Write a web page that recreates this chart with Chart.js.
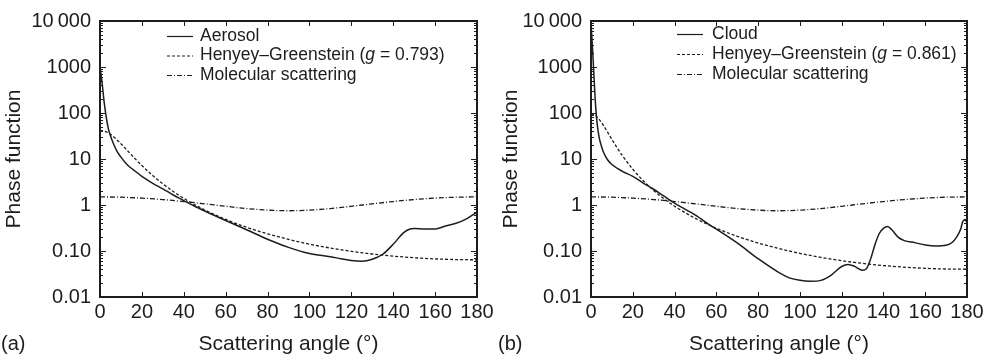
<!DOCTYPE html>
<html>
<head>
<meta charset="utf-8">
<script src="https://cdn.jsdelivr.net/npm/chart.js@4"></script>
<style>
  body { margin: 0; background: #fff; }
  .row { display: flex; width: 994px; height: 359px; }
  .panel { position: relative; width: 497px; height: 359px; }
</style>
</head>
<body>
<div class="row">
  <div class="panel"><canvas id="chartA"></canvas></div>
  <div class="panel"><canvas id="chartB"></canvas></div>
</div>
<script>
// tick labels
const xTicks = [0, 20, 40, 60, 80, 100, 120, 140, 160, 180];
const yTickValues = [0.01, 0.1, 1, 10, 100, 1000, 10000];
const yTickLabels = ['0.01', '0.10', '1', '10', '100', '1000', '10\u2009000'];

// panel (a) aerosol
const aerosolAngle = [0, 1, 2, 3, 4, 5, 6, 8, 10, 13, 16, 20, 25, 30, 35, 40, 45, 50, 60, 70, 80, 90, 100, 110, 115, 120, 125, 130, 135, 140, 145, 148, 150, 155, 160, 165, 170, 175, 180];
const aerosolValue = [1000, 450, 170, 80, 45, 32, 24, 15, 11, 7.5, 5.8, 4.2, 3.0, 2.25, 1.65, 1.25, 0.95, 0.74, 0.46, 0.29, 0.18, 0.12, 0.088, 0.075, 0.068, 0.062, 0.06, 0.066, 0.085, 0.14, 0.25, 0.30, 0.31, 0.30, 0.30, 0.35, 0.40, 0.50, 0.70];

// panel (b) cloud
const cloudAngle = [0, 1, 2, 3, 4, 5, 6, 8, 10, 15, 20, 25, 30, 35, 40, 50, 58, 60, 70, 80, 90, 95, 100, 105, 110, 115, 120, 123, 126, 130, 132, 134, 136, 138, 140, 142, 144, 147, 150, 155, 160, 165, 170, 173, 175, 177, 178, 179, 180];
const cloudValue = [9000, 1500, 200, 55, 28, 19, 14, 9.5, 7.6, 5.4, 4.2, 3.0, 2.2, 1.55, 1.1, 0.6, 0.34, 0.3, 0.15, 0.068, 0.034, 0.026, 0.023, 0.022, 0.023, 0.03, 0.046, 0.051, 0.047, 0.038, 0.042, 0.07, 0.14, 0.24, 0.31, 0.34, 0.29, 0.2, 0.168, 0.152, 0.135, 0.128, 0.133, 0.155, 0.2, 0.3, 0.44, 0.47, 0.42];

// Henyey-Greenstein curves
const hgAngle = [0, 2, 4, 6, 8, 10, 12, 15, 20, 25, 30, 35, 40, 50, 60, 70, 80, 90, 100, 110, 120, 130, 140, 150, 160, 170, 180];
const hgAerosol = [41.9, 40.5, 36.8, 31.8, 26.4, 21.5, 17.2, 12.3, 7.2, 4.43, 2.88, 1.96, 1.39, 0.78, 0.486, 0.328, 0.236, 0.179, 0.141, 0.116, 0.0985, 0.0861, 0.0774, 0.0714, 0.0674, 0.0651, 0.0644];
const hgCloud = [96.5, 89.1, 71.8, 53.1, 37.8, 26.7, 19.0, 11.9, 5.99, 3.37, 2.07, 1.36, 0.943, 0.512, 0.313, 0.209, 0.149, 0.113, 0.0888, 0.0727, 0.0616, 0.0538, 0.0483, 0.0445, 0.0420, 0.0406, 0.0401];

// molecular (Rayleigh) scattering
const molAngle = [0, 10, 20, 30, 40, 50, 60, 70, 80, 90, 100, 110, 120, 130, 140, 150, 160, 170, 180];
const molValue = [1.5, 1.477, 1.412, 1.313, 1.19, 1.06, 0.938, 0.838, 0.773, 0.75, 0.773, 0.838, 0.938, 1.06, 1.19, 1.313, 1.412, 1.477, 1.5];

const INK = '#1e1c1d';
const FONT = '"Liberation Sans", Arial, Helvetica, sans-serif';

function pts(xs, ys) {
    return xs.map((x, i) => ({ x: x, y: ys[i] }));
}

// frame with inward ticks, legend and panel letter
const framePlugin = {
    id: 'frame',
    afterDraw(chart, args, opts) {
        const ctx = chart.ctx;
        const a = chart.chartArea;
        const xs = chart.scales.x, ys = chart.scales.y;
        ctx.save();
        ctx.strokeStyle = INK;
        ctx.lineWidth = 2;
        ctx.strokeRect(a.left, a.top, a.right - a.left, a.bottom - a.top);

        ctx.lineWidth = 1;
        ctx.beginPath();
        xTicks.forEach(v => {
            const px = Math.round(xs.getPixelForValue(v)) + 0.5;
            ctx.moveTo(px, a.bottom); ctx.lineTo(px, a.bottom - 5);
            ctx.moveTo(px, a.top); ctx.lineTo(px, a.top + 5);
        });
        yTickValues.forEach((v, i) => {
            const py = Math.round(ys.getPixelForValue(v)) + 0.5;
            ctx.moveTo(a.left, py); ctx.lineTo(a.left + 6, py);
            ctx.moveTo(a.right, py); ctx.lineTo(a.right - 6, py);
            if (i < yTickValues.length - 1) {
                for (let m = 2; m <= 9; m++) {
                    const pm = Math.round(ys.getPixelForValue(v * m)) + 0.5;
                    ctx.moveTo(a.left, pm); ctx.lineTo(a.left + 3, pm);
                    ctx.moveTo(a.right, pm); ctx.lineTo(a.right - 3, pm);
                }
            }
        });
        ctx.stroke();

        // legend
        ctx.textBaseline = 'middle';
        ctx.fillStyle = INK;
        opts.items.forEach((it, i) => {
            const y = a.top + opts.top + i * opts.gap;
            ctx.setLineDash(it.dash);
            ctx.lineWidth = 1.2;
            ctx.beginPath();
            ctx.moveTo(a.left + opts.lineFrom, y + 0.5);
            ctx.lineTo(a.left + opts.lineTo, y + 0.5);
            ctx.stroke();
            ctx.setLineDash([]);
            let tx = a.left + opts.textX;
            it.parts.forEach(p => {
                ctx.font = (p.italic ? 'italic ' : '') + '17.5px ' + FONT;
                ctx.fillText(p.t, tx, y);
                tx += ctx.measureText(p.t).width;
            });
        });

        // panel letter
        ctx.font = '20px ' + FONT;
        ctx.fillText(opts.letter, 1, 344);
        ctx.restore();
    }
};

function makeChart(id, curve, hg, gText, label, letter, yWidth, rightPad, lg) {
    return new Chart(document.getElementById(id), {
        type: 'line',
        data: {
            datasets: [
                { label: label, data: curve, borderColor: INK, borderWidth: 1.5 },
                { label: 'Henyey–Greenstein (g = ' + gText + ')', data: hg, borderColor: INK, borderWidth: 1.3, borderDash: [3, 2] },
                { label: 'Molecular scattering', data: pts(molAngle, molValue), borderColor: INK, borderWidth: 1.3, borderDash: [5, 2, 1, 2] }
            ]
        },
        options: {
            responsive: true,
            maintainAspectRatio: false,
            animation: false,
            elements: { point: { radius: 0 }, line: { cubicInterpolationMode: 'monotone', fill: false } },
            layout: { padding: { top: 15, right: rightPad, left: 0, bottom: 0 } },
            plugins: {
                legend: { display: false },
                tooltip: { enabled: false },
                frame: {
                    letter: letter,
                    top: lg.top, gap: lg.gap, lineFrom: lg.lineFrom, lineTo: lg.lineTo, textX: lg.textX,
                    items: [
                        { dash: [], parts: [{ t: label }] },
                        { dash: [3, 2], parts: [{ t: 'Henyey–Greenstein (' }, { t: 'g', italic: true }, { t: ' = ' + gText + ')' }] },
                        { dash: [5, 2, 1, 2], parts: [{ t: 'Molecular scattering' }] }
                    ]
                }
            },
            scales: {
                x: {
                    type: 'linear', min: 0, max: 180,
                    grid: { display: false, drawTicks: false },
                    border: { display: false },
                    afterBuildTicks: s => { s.ticks = xTicks.map(v => ({ value: v })); },
                    afterFit: s => { s.height = 62; },
                    ticks: { color: INK, font: { family: FONT, size: 20 }, padding: 3, maxRotation: 0, autoSkip: false },
                    title: { display: true, text: 'Scattering angle (°)', color: INK, font: { family: FONT, size: 21 }, padding: { top: 0, bottom: 2 } }
                },
                y: {
                    type: 'logarithmic', min: 0.01, max: 10000,
                    grid: { display: false, drawTicks: false },
                    border: { display: false },
                    afterBuildTicks: s => { s.ticks = yTickValues.map(v => ({ value: v })); },
                    afterFit: s => { s.width = yWidth; },
                    ticks: { color: INK, font: { family: FONT, size: 20 }, padding: 9, autoSkip: false, callback: (v, i) => yTickLabels[i] },
                    title: { display: true, text: 'Phase function', color: INK, font: { family: FONT, size: 21 }, padding: { top: 2, bottom: 0 } }
                }
            }
        },
        plugins: [framePlugin]
    });
}

makeChart('chartA', pts(aerosolAngle, aerosolValue), pts(hgAngle, hgAerosol), '0.793', 'Aerosol', '(a)', 100, 20,
    { top: 15, gap: 19.5, lineFrom: 67, lineTo: 93, textX: 100 });
makeChart('chartB', pts(cloudAngle, cloudValue), pts(hgAngle, hgCloud), '0.861', 'Cloud', '(b)', 94, 27,
    { top: 13, gap: 20, lineFrom: 86, lineTo: 112, textX: 121 });
</script>
</body>
</html>
